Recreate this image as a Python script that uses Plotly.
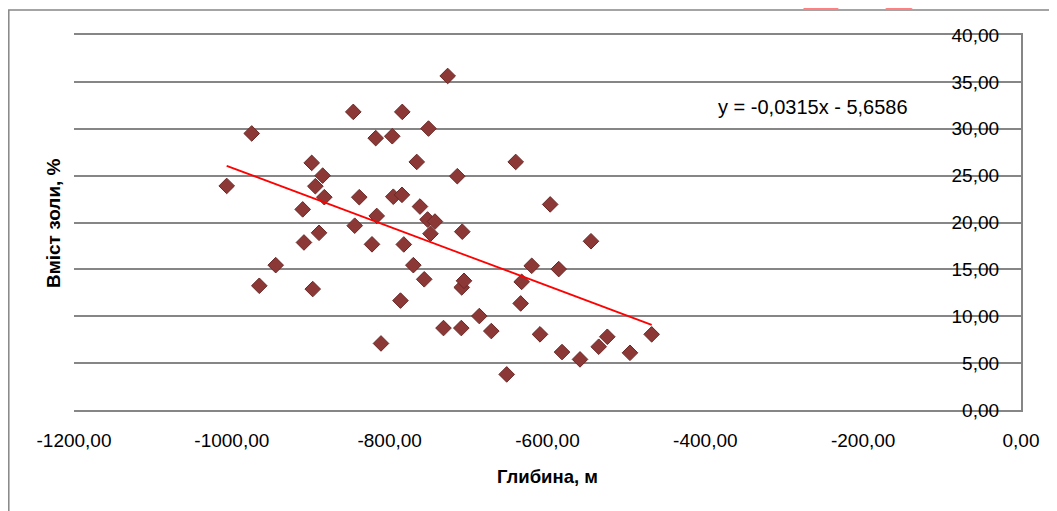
import plotly.graph_objects as go

# Data
depth = [-1006.5, -974.8, -965.2, -944.4, -910.2, -908.6, -898.8, -897.5, -894.2, -889.5,
         -884.9, -882.8, -846.1, -844.3, -838.5, -822.4, -817.7, -816.4, -811.0, -796.7,
         -795.4, -786.3, -784.0, -784.4, -782.1, -770.0, -765.7, -761.6, -756.2, -750.8,
         -752.0, -748.3, -742.6, -731.8, -726.5, -714.3, -709.2, -708.0, -708.7, -705.8,
         -686.4, -671.2, -651.7, -640.3, -634.0, -632.7, -620.0, -609.5, -596.6, -585.8,
         -581.6, -558.8, -544.9, -535.1, -524.2, -495.5, -468.0]
ash = [23.9, 29.5, 13.25, 15.45, 21.4, 17.87, 26.36, 12.9, 23.87, 18.9,
       25.0, 22.7, 31.8, 19.66, 22.7, 17.67, 29.0, 20.7, 7.1, 29.2,
       22.75, 11.67, 31.8, 22.95, 17.66, 15.45, 26.46, 21.7, 13.94, 30.02,
       20.32, 18.8, 20.1, 8.74, 35.63, 24.94, 8.74, 19.02, 13.08, 13.78,
       10.02, 8.42, 3.8, 26.46, 11.37, 13.67, 15.38, 8.07, 21.93, 15.03,
       6.18, 5.4, 18.0, 6.75, 7.81, 6.1, 8.07]

trend_slope = -0.0315
trend_intercept = -5.6586
trend_label = "y = -0,0315x - 5,6586"

x_tickvals = [-1200, -1000, -800, -600, -400, -200, 0]
x_ticktext = ["-1200,00", "-1000,00", "-800,00", "-600,00", "-400,00", "-200,00", "0,00"]
y_tickvals = [0, 5, 10, 15, 20, 25, 30, 35, 40]
y_ticktext = ["0,00", "5,00", "10,00", "15,00", "20,00", "25,00", "30,00", "35,00", "40,00"]

x_title = "Глибина, м"
y_title = "Вміст золи, %"

FONT = "Liberation Sans, Arial, sans-serif"
GRID = "#868686"

tx = [min(depth), max(depth)]
ty = [trend_slope * v + trend_intercept for v in tx]

fig = go.Figure()
fig.add_trace(go.Scatter(
    x=depth, y=ash, mode="markers",
    marker=dict(symbol="diamond", size=12, color="#8C3836",
                line=dict(color="#6A2826", width=1)),
    showlegend=False,
))
fig.add_trace(go.Scatter(
    x=tx, y=ty, mode="lines",
    line=dict(color="#FF0000", width=1.8),
    showlegend=False,
))

# The page body has an 8px margin; figure is sized to fit the window
OFF = 8
W, H = 1057 - OFF, 511 - OFF
L, R, T, B = 74 - OFF, 36, 35 - OFF, 101
pw, ph = W - L - R, H - T - B


def px(xs):
    return (xs - OFF - L) / pw


def py(ys):
    return (H - B - (ys - OFF)) / ph


fig.update_layout(
    width=W, height=H, autosize=False,
    margin=dict(l=L, r=R, t=T, b=B),
    paper_bgcolor="white", plot_bgcolor="white",
    font=dict(family=FONT, size=19, color="#000000"),
    xaxis=dict(
        range=[-1200, 0], tickvals=x_tickvals, ticktext=x_ticktext,
        showgrid=False, zeroline=False, showline=True, mirror=True,
        linecolor=GRID, linewidth=1.5,
        ticks="", tickfont=dict(size=19, color="#000000"), ticklabelstandoff=12,
    ),
    yaxis=dict(
        range=[0, 40], tickvals=y_tickvals, ticktext=y_ticktext,
        side="right", ticklabelposition="inside", ticklabelstandoff=23,
        ticklabeloverflow="allow",
        showgrid=True, gridcolor=GRID, gridwidth=1.5, zeroline=False,
        showline=True, linecolor=GRID, linewidth=1.5, ticks="",
        tickfont=dict(size=19, color="#000000"),
    ),
    annotations=[
        dict(text=trend_label, xref="paper", yref="paper", x=px(813), y=py(107),
             xanchor="center", yanchor="middle", showarrow=False,
             font=dict(size=20, family=FONT, color="#000000")),
        dict(text="<b>" + x_title + "</b>", xref="paper", yref="paper", x=px(547), y=py(476),
             xanchor="center", yanchor="middle", showarrow=False,
             font=dict(size=18.5, family=FONT, color="#000000")),
        dict(text="<b>" + y_title + "</b>", xref="paper", yref="paper", x=px(53), y=py(223),
             xanchor="center", yanchor="middle", showarrow=False, textangle=-90,
             font=dict(size=19, family=FONT, color="#000000")),
    ],
    shapes=[
        dict(type="rect", xref="paper", yref="paper",
             x0=px(8.8), x1=px(1080), y0=py(540), y1=py(10),
             line=dict(color=GRID, width=1.5), fillcolor="rgba(0,0,0,0)", layer="below"),
        dict(type="path", xref="paper", yref="paper",
             path=f"M {px(802)} {py(10)} L {px(812)} {py(0)} L {px(829)} {py(0)} L {px(840)} {py(10)} Z",
             fillcolor="#FF8080", line=dict(width=0)),
        dict(type="path", xref="paper", yref="paper",
             path=f"M {px(873)} {py(0)} L {px(924)} {py(0)} L {px(910)} {py(10)} L {px(888)} {py(10)} Z",
             fillcolor="#FF8080", line=dict(width=0)),
    ],
)

fig.write_html("out.html")
